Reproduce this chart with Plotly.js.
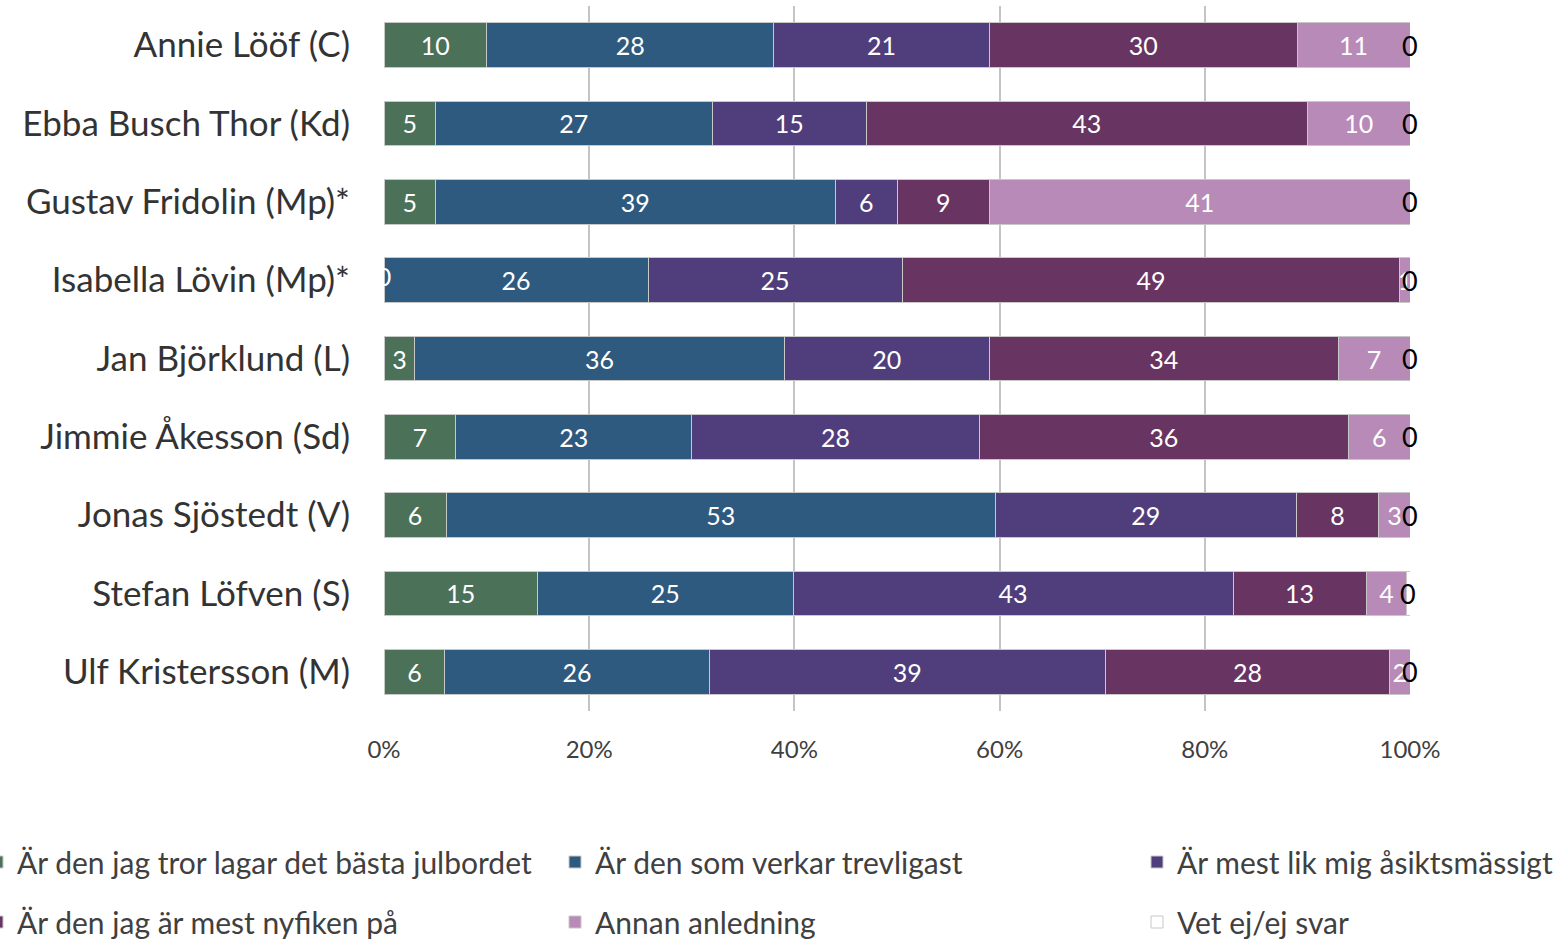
<!DOCTYPE html>
<html>
<head>
<meta charset="utf-8">
<script src="https://cdn.plot.ly/plotly-3.0.1.min.js"></script>
<style>html,body{margin:0;padding:0;background:#fff;}#chart{width:1558px;height:941px;}</style>
</head>
<body>
<div id="chart"></div>
<script>
const categories = ["Annie Lööf (C)", "Ebba Busch Thor (Kd)", "Gustav Fridolin (Mp)*", "Isabella Lövin (Mp)*", "Jan Björklund (L)", "Jimmie Åkesson (Sd)", "Jonas Sjöstedt (V)", "Stefan Löfven (S)", "Ulf Kristersson (M)"];
const seriesNames = ["Är den jag tror lagar det bästa julbordet", "Är den som verkar trevligast", "Är mest lik mig åsiktsmässigt", "Är den jag är mest nyfiken på", "Annan anledning", "Vet ej/ej svar"];
const julbord = [10, 5, 5, 0, 3, 7, 6, 15, 6];
const trevligast = [28, 27, 39, 26, 36, 23, 53, 25, 26];
const asikt = [21, 15, 6, 25, 20, 28, 29, 43, 39];
const nyfiken = [30, 43, 9, 49, 34, 36, 8, 13, 28];
const annan = [11, 10, 41, 1, 7, 6, 3, 4, 2];
const vetej = [0, 0, 0, 0, 0, 0, 0, 0.3, 0];
const vetejLabels = ["0", "0", "0", "0", "0", "0", "0", "0", "0"];
const tickValues = [0, 20, 40, 60, 80, 100];
const tickLabels = ["0%", "20%", "40%", "60%", "80%", "100%"];

const colors = ["#4b7159", "#2e5a80", "#4f3e7b", "#683462", "#b88ab8", "#ffffff"];
const series = [julbord, trevligast, asikt, nyfiken, annan, vetej];
const FONT = "Lato, 'Open Sans', sans-serif";
const legendIds = ["legend", "legend2", "legend3", "legend4", "legend5", "legend6"];

const traces = [];
series.forEach((vals, i) => {
  traces.push({
    type: "bar", orientation: "h",
    name: seriesNames[i],
    x: vals, y: categories,
    text: i < 5 ? vals.map(v => v === 0 ? "" : String(v)) : vals.map(() => ""),
    textposition: i < 5 ? "inside" : "none",
    insidetextanchor: "middle",
    textfont: {family: FONT, size: 25, color: "#ffffff"},
    marker: {color: colors[i], line: {color: "#c8c8c8", width: 1}},
    legend: legendIds[i],
    hoverinfo: "x+y+name"
  });
});

const totals = categories.map((c, r) => series.reduce((s, arr) => s + arr[r], 0));

// zero-valued labels in inner series (white, clipped by plot area)
const zx = [], zy = [], zt = [];
for (let i = 0; i < 5; i++) {
  categories.forEach((c, r) => {
    if (series[i][r] === 0) {
      let cum = 0;
      for (let k = 0; k < i; k++) cum += series[k][r];
      zx.push(cum / totals[r] * 100); zy.push(c); zt.push("0");
    }
  });
}
traces.push({
  type: "scatter", mode: "text", x: zx, y: zy, text: zt,
  textposition: "middle center", cliponaxis: true,
  textfont: {family: FONT, size: 25, color: "#ffffff"},
  showlegend: false, hoverinfo: "skip"
});

// Vet ej labels (black) at centre of segment
const annotations = categories.map((c, r) => ({
  x: (totals[r] - vetej[r] / 2) / totals[r] * 100, y: c,
  xref: "x", yref: "y", text: vetejLabels[r], showarrow: false,
  xanchor: "center", yanchor: "middle", yshift: 0,
  font: {family: FONT, size: 27, color: "#000000"}
}));

// legend placement (paper coords): columns/rows like the reference
const plotL = 384, plotW = 1026, plotB = 711, plotH = 705;
const colTextX = [17, 595, 1177];
const rowY = [862, 922];
const legends = {};
legendIds.forEach((id, i) => {
  const col = i % 3, row = Math.floor(i / 3);
  legends[id] = {
    xref: "paper", yref: "paper",
    x: (colTextX[col] - 40 - plotL) / plotW, xanchor: "left",
    y: (plotB - rowY[row]) / plotH, yanchor: "middle",
    font: {family: FONT, size: 30, color: "#404040"},
    bgcolor: "rgba(0,0,0,0)", borderwidth: 0
  };
});

const layout = Object.assign({
  width: 1558, height: 941,
  margin: {l: 384, r: 148, t: 6, b: 230, autoexpand: false},
  paper_bgcolor: "#ffffff", plot_bgcolor: "#ffffff",
  barmode: "stack", barnorm: "percent", bargap: 0.43,
  uniformtext: {mode: "show", minsize: 25},
  font: {family: FONT},
  xaxis: {
    range: [0, 100], tickmode: "array", tickvals: tickValues, ticktext: tickLabels,
    showgrid: true, gridcolor: "#c4c4c4", gridwidth: 2,
    zeroline: false, showline: false, ticks: "",
    ticklabelstandoff: 22,
    tickfont: {family: FONT, size: 24, color: "#404040"},
    fixedrange: true
  },
  yaxis: {
    autorange: "reversed", showgrid: false, zeroline: false, showline: false,
    ticks: "", ticklabelstandoff: 33,
    tickfont: {family: FONT, size: 35, color: "#333333"},
    fixedrange: true
  },
  annotations: annotations,
  showlegend: true
}, legends);

Plotly.newPlot("chart", traces, layout, {displayModeBar: false});
</script>
</body>
</html>
